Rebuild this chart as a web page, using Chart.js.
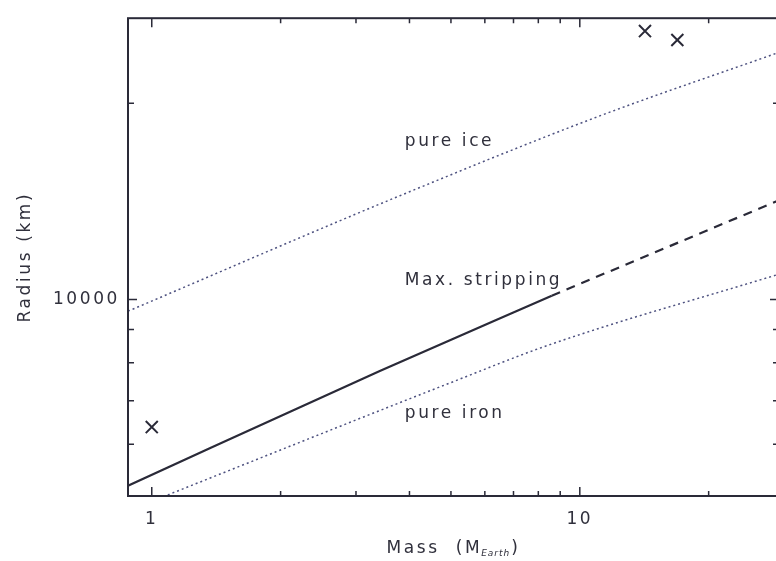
<!DOCTYPE html>
<html>
<head>
<meta charset="utf-8">
<script src="https://cdn.jsdelivr.net/npm/chart.js@4.4.0/dist/chart.umd.min.js"></script>
<style>
  html, body { margin: 0; padding: 0; background: #fff; overflow: hidden; }
  canvas { display: block; }
</style>
</head>
<body>
<canvas id="chart-mr" width="800" height="561"></canvas>
<script>
/* Mass–radius diagram (log-log) */

// ─── DATA ────────────────────────────────────────────────────
const X_TICKS = [1, 2, 3, 4, 5, 6, 7, 8, 9, 10, 20];
const X_LABELED = [1, 10];
const Y_TICKS = [6000, 7000, 8000, 9000, 10000, 20000];
const Y_LABELED = [10000];

const ICE_M = [0.88, 3.8, 11.1, 29.2];
const ICE_R = [9600, 14430, 19110, 23930];

const STRIP_M = [0.88, 3.41, 8.6];
const STRIP_R = [5185, 7770, 10140];

const STRIP_EXT_M = [8.6, 29.2];
const STRIP_EXT_R = [10140, 14200];

const IRON_M = [1.09, 4.97, 8.51, 29.2];
const IRON_R = [5020, 7450, 8530, 10940];

const PLANET_M = [1, 14.2, 16.9];
const PLANET_R = [6377, 25800, 25000];

const NOTE_TEXT = ['pure ice', 'Max. stripping', 'pure iron'];
const NOTE_M = [3.9, 3.9, 3.9];
const NOTE_R = [17170, 10530, 6580];

// ─── STYLE ───────────────────────────────────────────────────
const INK = '#2a2a38';
const TEXT = '#30303c';
const DOTTED = '#4e5280';
const FONT = "'DejaVu Sans', sans-serif";

Chart.defaults.font.family = FONT;
Chart.defaults.font.size = 17;
Chart.defaults.color = TEXT;

const pts = (m, r) => m.map((v, i) => ({ x: v, y: r[i] }));

// inward ticks, frame, text notes and x title with subscript
const frameTicks = {
  id: 'frameTicks',
  beforeDraw(chart) {
    chart.ctx.letterSpacing = '2.6px';
  },
  afterDraw(chart) {
    const { ctx, chartArea: a, scales: { x, y } } = chart;
    ctx.save();
    ctx.strokeStyle = INK;
    ctx.lineWidth = 1.5;
    ctx.beginPath();
    X_TICKS.forEach(v => {
      const px = x.getPixelForValue(v);
      const len = X_LABELED.includes(v) ? 9 : 5;
      ctx.moveTo(px, a.bottom); ctx.lineTo(px, a.bottom - len);
      ctx.moveTo(px, a.top); ctx.lineTo(px, a.top + len);
    });
    Y_TICKS.forEach(v => {
      const py = y.getPixelForValue(v);
      const len = Y_LABELED.includes(v) ? 9 : 6;
      ctx.moveTo(a.left, py); ctx.lineTo(a.left + len, py);
      ctx.moveTo(a.right, py); ctx.lineTo(a.right - len, py);
    });
    ctx.stroke();
    ctx.lineWidth = 2;
    ctx.strokeRect(a.left, a.top, a.right - a.left, a.bottom - a.top);

    // notes
    ctx.fillStyle = TEXT;
    ctx.font = '17px ' + FONT;
    ctx.textAlign = 'left';
    ctx.textBaseline = 'alphabetic';
    NOTE_TEXT.forEach((t, i) => {
      ctx.fillText(t, x.getPixelForValue(NOTE_M[i]), y.getPixelForValue(NOTE_R[i]));
    });

    // x title: Mass (M_Earth)
    const big = '17px ' + FONT, small = 'italic 9px ' + FONT;
    ctx.font = big; ctx.letterSpacing = '2.6px';
    const w1 = ctx.measureText('Mass  (M').width;
    const w3 = ctx.measureText(')').width;
    ctx.font = small; ctx.letterSpacing = '1px';
    const w2 = ctx.measureText('Earth').width;
    let cx = (a.left + a.right) / 2 - (w1 + w2 + w3) / 2;
    const base = a.bottom + 57;
    ctx.font = big; ctx.letterSpacing = '2.6px';
    ctx.fillText('Mass  (M', cx, base); cx += w1;
    ctx.font = small; ctx.letterSpacing = '1px';
    ctx.fillText('Earth', cx - 1, base + 3); cx += w2;
    ctx.font = big; ctx.letterSpacing = '2.6px';
    ctx.fillText(')', cx, base);
    ctx.restore();
  }
};

// ─── CHART ───────────────────────────────────────────────────
new Chart(document.getElementById('chart-mr'), {
  type: 'line',
  data: {
    datasets: [
      {
        label: 'pure ice',
        data: pts(ICE_M, ICE_R),
        borderColor: DOTTED,
        borderWidth: 1.5,
        borderDash: [2, 3],
        pointRadius: 0,
        cubicInterpolationMode: 'monotone',
      },
      {
        label: 'Max. stripping',
        data: pts(STRIP_M, STRIP_R),
        borderColor: INK,
        borderWidth: 2.2,
        pointRadius: 0,
        cubicInterpolationMode: 'monotone',
      },
      {
        label: 'Max. stripping (ext.)',
        data: pts(STRIP_EXT_M, STRIP_EXT_R),
        borderColor: INK,
        borderWidth: 2.2,
        borderDash: [9, 7],
        pointRadius: 0,
      },
      {
        label: 'pure iron',
        data: pts(IRON_M, IRON_R),
        borderColor: DOTTED,
        borderWidth: 1.5,
        borderDash: [2, 3],
        pointRadius: 0,
        cubicInterpolationMode: 'monotone',
      },
      {
        label: 'planets',
        data: pts(PLANET_M, PLANET_R),
        showLine: false,
        pointStyle: 'crossRot',
        pointRadius: 8.5,
        borderColor: INK,
        borderWidth: 2,
      }
    ]
  },
  options: {
    responsive: false,
    animation: false,
    events: [],
    layout: { padding: { top: 11, right: 21, bottom: 0, left: 0 } },
    plugins: { legend: { display: false }, tooltip: { enabled: false } },
    scales: {
      x: {
        type: 'logarithmic',
        min: 0.88,
        max: 29.2,
        grid: { display: false, drawTicks: false },
        border: { display: false },
        afterFit: s => { s.height = 65; },
        afterBuildTicks: s => { s.ticks = X_TICKS.map(v => ({ value: v })); },
        ticks: {
          autoSkip: false,
          maxRotation: 0,
          padding: 13,
          color: TEXT,
          callback: v => X_LABELED.includes(v) ? String(v) : '',
        },
      },
      y: {
        type: 'logarithmic',
        min: 5000,
        max: 27000,
        grid: { display: false, drawTicks: false },
        border: { display: false },
        afterFit: s => { s.width = 128; },
        afterBuildTicks: s => { s.ticks = Y_TICKS.map(v => ({ value: v })); },
        ticks: {
          autoSkip: false,
          padding: 8,
          color: TEXT,
          callback: v => Y_LABELED.includes(v) ? String(v) : '',
        },
        title: {
          display: true,
          text: 'Radius (km)',
          color: TEXT,
          padding: { top: 15, bottom: 0 },
        },
      }
    }
  },
  plugins: [frameTicks]
});
</script>
</body>
</html>
